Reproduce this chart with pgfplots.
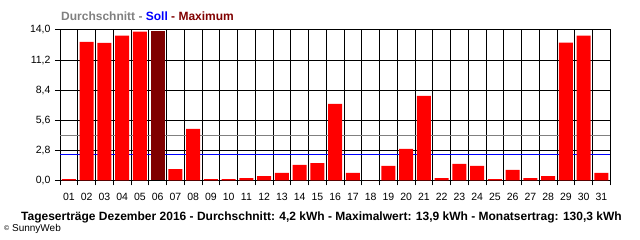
\documentclass[border=0pt]{standalone}
\usepackage{fontspec}
\setmainfont{Liberation Sans}
\usepackage{pgfplots}
\pgfplotsset{compat=1.18}
\definecolor{maxred}{HTML}{800000}
\definecolor{avggray}{HTML}{808080}
\definecolor{sollblue}{HTML}{0000FF}
\begin{document}
\begin{tikzpicture}[x=1pt,y=1pt]
\path[use as bounding box] (0,0) rectangle (640,240);
\begin{axis}[at={(60pt,59.7pt)}, anchor=south west, scale only axis,
  width=550.3pt, height=150.3pt,
  xmin=0.5, xmax=31.5, ymin=0, ymax=14,
  ytick={0,2.8,5.6,8.4,11.2,14},
  yticklabels={{0,0},{2,8},{5,6},{8,4},{11,2},{14,0}},
  xtick={0.5,1.5,...,31.5}, xticklabels={},
  extra x ticks={1,...,31},
  extra x tick labels={01,02,03,04,05,06,07,08,09,10,11,12,13,14,15,16,17,18,19,20,21,22,23,24,25,26,27,28,29,30,31},
  extra x tick style={major tick length=0pt, grid=none, xticklabel style={yshift=-9pt}},
  xmajorgrids=true, ymajorgrids=true,
  grid style={black, line width=1pt},
  tick align=outside, major tick length=5pt,
  axis line style={black, line width=1pt},
  tick style={black, line width=1pt},
  ytick pos=left, xtick pos=lower,
  tick label style={font=\fontsize{10.5}{12}\selectfont},
  yticklabel style={xshift=-1pt},
  clip=false,
]
\addplot[avggray, line width=1pt, forget plot] coordinates {(0.5,4.2) (31.5,4.2)};
\addplot[sollblue, line width=1pt, forget plot] coordinates {(0.5,2.43) (31.5,2.43)};
\addplot[ybar, bar width=0.79, bar shift=0pt, fill=red, draw=none] coordinates {
(1,0.1) (2,12.9) (3,12.8) (4,13.47) (5,13.85) (7,1.05) (8,4.79) (9,0.1) (10,0.1)
(11,0.2) (12,0.4) (13,0.68) (14,1.43) (15,1.6) (16,7.12) (17,0.68) (18,0) (19,1.34)
(20,2.92) (21,7.87) (22,0.2) (23,1.52) (24,1.34) (25,0.1) (26,0.96) (27,0.2) (28,0.4)
(29,12.82) (30,13.47) (31,0.68)};
\addplot[ybar, bar width=0.79, bar shift=0pt, fill=maxred, draw=none] coordinates {(6,13.9)};
\end{axis}
\node[anchor=west, inner sep=0pt, font=\bfseries\fontsize{12}{14}\selectfont] at (61,224)
  {\textcolor{avggray}{Durchschnitt -\ }\textcolor{sollblue}{Soll}\textcolor{maxred}{\ - Maximum}};
\node[anchor=center, inner sep=0pt, font=\bfseries\fontsize{12}{14}\selectfont] at (321.5,23)
  {Tageserträge Dezember 2016 - Durchschnitt: 4,2 kWh - Maximalwert: 13,9 kWh - Monatsertrag: 130,3 kWh};
\node[anchor=west, inner sep=0pt, font=\fontsize{10}{12}\selectfont] at (4,11) {{\fontsize{7}{8}\selectfont\raisebox{1pt}{©}} SunnyWeb};
\end{tikzpicture}
\end{document}
